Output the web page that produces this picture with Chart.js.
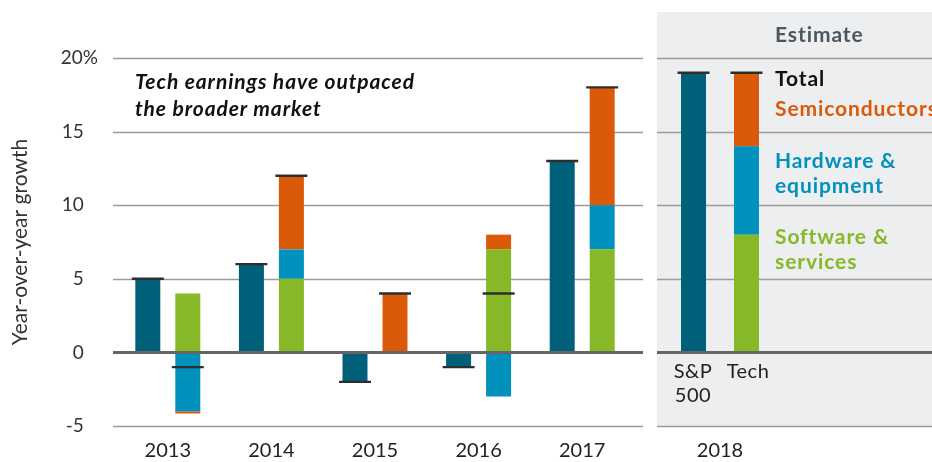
<!DOCTYPE html>
<html>
<head>
<meta charset="utf-8">
<script src="https://cdn.jsdelivr.net/npm/chart.js@4.4.1/dist/chart.umd.min.js"></script>
<style>
  body { margin: 0; background: #fff; }
  #wrap { position: relative; width: 932px; height: 462px; overflow: hidden; font-family: Lato, "Noto Sans", sans-serif; }
  #panel { position: absolute; left: 657px; top: 12px; width: 275px; height: 415px; background: #edeef0; }
  #left { position: absolute; left: 0; top: 0; }
  #right { position: absolute; left: 657px; top: 0; }
  .txt { position: absolute; white-space: nowrap; font-size: 21px; line-height: 25px; font-weight: 700; letter-spacing: 0.9px; }
  .sub { position: absolute; width: 80px; text-align: center; font-size: 20px; line-height: 24px; color: #222; letter-spacing: 0.5px; }
</style>
</head>
<body>
<div id="wrap">
  <div id="panel"></div>
  <canvas id="left" width="650" height="462"></canvas>
  <canvas id="right" width="275" height="462"></canvas>

  <div class="txt" style="left:135px; top:67px; line-height:27px; font-style:italic; color:#111;">Tech earnings have outpaced<br>the broader market</div>
  <div class="txt" style="left:775px; top:21px; color:#4b5760;">Estimate</div>
  <div class="txt" style="left:775px; top:65px; color:#111;">Total</div>
  <div class="txt" style="left:775px; top:95px; color:#db5a09;">Semiconductors</div>
  <div class="txt" style="left:775px; top:147px; color:#0091bd;">Hardware &amp;<br>equipment</div>
  <div class="txt" style="left:775px; top:223px; color:#86b827;">Software &amp;<br>services</div>
  <div class="sub" style="left:653px; top:358px;">S&amp;P<br>500</div>
  <div class="sub" style="left:708px; top:358px;">Tech</div>
</div>

<script>
// years, last one is the estimate
const years = ['2013', '2014', '2015', '2016', '2017', '2018'];
const spGrowth = [5, 6, -2, -1, 13, 19];
// tech contributions by sub-sector
const software = [4, 5, 0, 7, 7, 8];
const hardware = [-4, 2, 0, -3, 3, 6];
const semis = [-0.15, 5, 4, 1, 8, 5];
const techTotal = [-1, 12, 4, 4, 18, 19];
const yTicks = [-5, 0, 5, 10, 15, 20];

const colors = {
  sp: '#00607a',
  software: '#86b827',
  hardware: '#0091bd',
  semis: '#db5a09',
  marker: '#2e2e2e'
};

// positive parts go up from 0, negative parts go down from 0
function segments(from, to) {
  const out = { software: [], hardware: [], semis: [] };
  for (let i = from; i < to; i++) {
    let pos = 0, neg = 0;
    [['software', software], ['hardware', hardware], ['semis', semis]].forEach(([k, arr]) => {
      const v = arr[i];
      if (v >= 0) { out[k].push([pos, pos + v]); pos += v; }
      else { out[k].push([neg, neg + v]); neg += v; }
    });
  }
  return out;
}

function markerRange(v) { return [v - 0.08, v + 0.08]; }

function buildDatasets(from, to, markerPct) {
  const seg = segments(from, to);
  return [
    { data: spGrowth.slice(from, to).map(markerRange), stack: 'sp', backgroundColor: colors.marker, barPercentage: markerPct },
    { data: techTotal.slice(from, to).map(markerRange), stack: 'tech', backgroundColor: colors.marker, barPercentage: markerPct },
    { data: spGrowth.slice(from, to).map(v => [0, v]), stack: 'sp', backgroundColor: colors.sp },
    { data: seg.software, stack: 'tech', backgroundColor: colors.software },
    { data: seg.hardware, stack: 'tech', backgroundColor: colors.hardware },
    { data: seg.semis, stack: 'tech', backgroundColor: colors.semis }
  ];
}

// grid lines drawn by hand so they can run past the chart area
const gridLines = {
  id: 'gridLines',
  beforeDatasetsDraw(chart, args, opts) {
    const y = chart.scales.y, ctx = chart.ctx;
    ctx.save();
    yTicks.forEach(t => {
      if (t === 0) return;
      const py = Math.round(y.getPixelForValue(t)) + 0.5;
      ctx.strokeStyle = '#9c9c9c';
      ctx.lineWidth = 1.5;
      ctx.beginPath();
      ctx.moveTo(opts.left, py);
      ctx.lineTo(opts.right, py);
      ctx.stroke();
    });
    ctx.restore();
  },
  afterDatasetsDraw(chart, args, opts) {
    const y = chart.scales.y, ctx = chart.ctx;
    const py = y.getPixelForValue(0);
    ctx.save();
    ctx.strokeStyle = '#666';
    ctx.lineWidth = 3;
    ctx.beginPath();
    ctx.moveTo(opts.left, py);
    ctx.lineTo(opts.right, py);
    ctx.stroke();
    ctx.restore();
  }
};

function yScale(showLabels, width) {
  return {
    stacked: false,
    min: -5,
    max: 20,
    afterBuildTicks: s => { s.ticks = yTicks.map(v => ({ value: v })); },
    afterFit: s => { s.width = width; },
    grid: { display: false, drawTicks: false },
    border: { display: false },
    ticks: {
      display: showLabels,
      padding: 18,
      color: '#333',
      font: { family: 'Lato', size: 19 },
      callback: v => v === 20 ? '20%' : v + '\u2003'
    },
    title: {
      display: showLabels,
      text: 'Year-over-year growth',
      color: '#333',
      font: { family: 'Lato', size: 21 },
      padding: { top: 8 }
    }
  };
}

function xScale() {
  return {
    stacked: true,
    afterFit: s => { s.height = 36; },
    grid: { display: false, drawTicks: false },
    border: { display: false },
    ticks: { padding: 13, color: '#222', font: { family: 'Lato', size: 20 } }
  };
}

const common = {
  responsive: false,
  animation: false,
  devicePixelRatio: 1,
  plugins: { legend: { display: false }, tooltip: { enabled: false } }
};

new Chart(document.getElementById('left'), {
  type: 'bar',
  data: { labels: years.slice(0, 5), datasets: buildDatasets(0, 5, 0.8) },
  options: {
    ...common,
    layout: { padding: { top: 58, right: 16, bottom: 0, left: 0 } },
    datasets: { bar: { categoryPercentage: 0.772, barPercentage: 0.625 } },
    plugins: { ...common.plugins, gridLines: { left: 113, right: 643 } },
    scales: { x: xScale(), y: yScale(true, 116) }
  },
  plugins: [gridLines]
});

new Chart(document.getElementById('right'), {
  type: 'bar',
  data: { labels: years.slice(5), datasets: buildDatasets(5, 6, 0.604) },
  options: {
    ...common,
    layout: { padding: { top: 58, right: 149, bottom: 0, left: 0 } },
    datasets: { bar: { categoryPercentage: 0.841, barPercentage: 0.4717 } },
    plugins: { ...common.plugins, gridLines: { left: 0, right: 275 } },
    scales: { x: xScale(), y: yScale(false, 0) }
  },
  plugins: [gridLines]
});
</script>
</body>
</html>
